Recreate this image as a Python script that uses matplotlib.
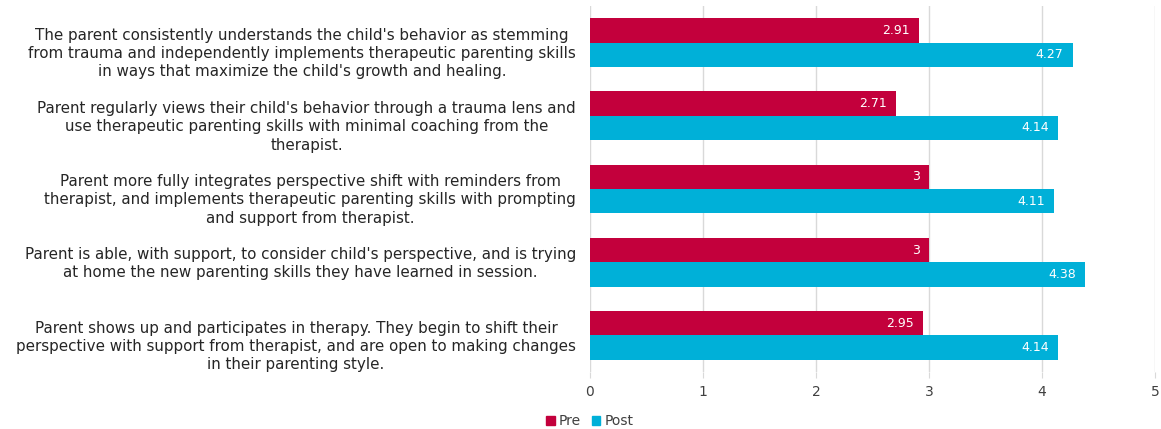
import matplotlib
matplotlib.use("Agg")
import matplotlib.pyplot as plt
import matplotlib.transforms as mtransforms
from matplotlib.patches import Patch
import numpy as np

categories = [
    "The parent consistently understands the child's behavior as stemming\nfrom trauma and independently implements therapeutic parenting skills\nin ways that maximize the child's growth and healing.",
    "Parent regularly views their child's behavior through a trauma lens and\nuse therapeutic parenting skills with minimal coaching from the\ntherapist.",
    "Parent more fully integrates perspective shift with reminders from\ntherapist, and implements therapeutic parenting skills with prompting\nand support from therapist.",
    "Parent is able, with support, to consider child's perspective, and is trying\nat home the new parenting skills they have learned in session.",
    "Parent shows up and participates in therapy. They begin to shift their\nperspective with support from therapist, and are open to making changes\nin their parenting style.",
]
pre = [2.91, 2.71, 3, 3, 2.95]
post = [4.27, 4.14, 4.11, 4.38, 4.14]
xticks = [0, 1, 2, 3, 4, 5]

PRE_C = "#C3003C"
POST_C = "#00B0D8"
TXT = "#404040"

plt.rcParams['font.family'] = ['DejaVu Sans']

fig = plt.figure(figsize=(11.61, 4.29), dpi=100)
ax = fig.add_axes([590/1161, 57/429, 565/1161, 366/429])

n = len(categories)
y = np.arange(n)
h = 0.333
ax.barh(y - h/2, pre, height=h, color=PRE_C, label="Pre", zorder=3)
ax.barh(y + h/2, post, height=h, color=POST_C, label="Post", zorder=3)

for yi, v in zip(y - h/2, pre):
    ax.annotate(f"{v:g}", (v, yi), xytext=(-6.5, 0), textcoords="offset points",
                ha="right", va="center", color="white", fontsize=9, zorder=4)
for yi, v in zip(y + h/2, post):
    ax.annotate(f"{v:g}", (v, yi), xytext=(-6.5, 0), textcoords="offset points",
                ha="right", va="center", color="white", fontsize=9, zorder=4)

ax.set_xlim(0, 5)
ax.set_ylim(n - 0.5, -0.5)
ax.set_xticks(xticks)
ax.set_xticklabels([str(t) for t in xticks], color=TXT, fontsize=10)
ax.set_yticks([])
ax.tick_params(axis="x", length=4, color="#D9D9D9", pad=5)
ax.grid(axis="x", color="#D9D9D9", linewidth=1, zorder=0)
for s in ax.spines.values():
    s.set_visible(False)

trans = mtransforms.blended_transform_factory(ax.transAxes, ax.transData)
for yi, lab in zip(y, categories):
    nl = lab.count("\n") + 1
    off = mtransforms.ScaledTranslation(-14/100, -(nl - 2) * 10/100 - 1/100, fig.dpi_scale_trans)
    ax.text(0, yi, lab, transform=trans + off, ha="right", va="center",
            multialignment="center", fontsize=10.9, color="#262626", linespacing=1.27)

handles = [Patch(color=PRE_C, label="Pre"), Patch(color=POST_C, label="Post")]
fig.legend(handles=handles, loc="lower center", bbox_to_anchor=(590/1161, -0.015), ncol=2,
           frameon=False, fontsize=10, handlelength=0.6, handleheight=0.6,
           handletextpad=0.3, columnspacing=0.8, labelcolor=TXT, borderaxespad=0.1)

fig.savefig("out.png", dpi=100)
